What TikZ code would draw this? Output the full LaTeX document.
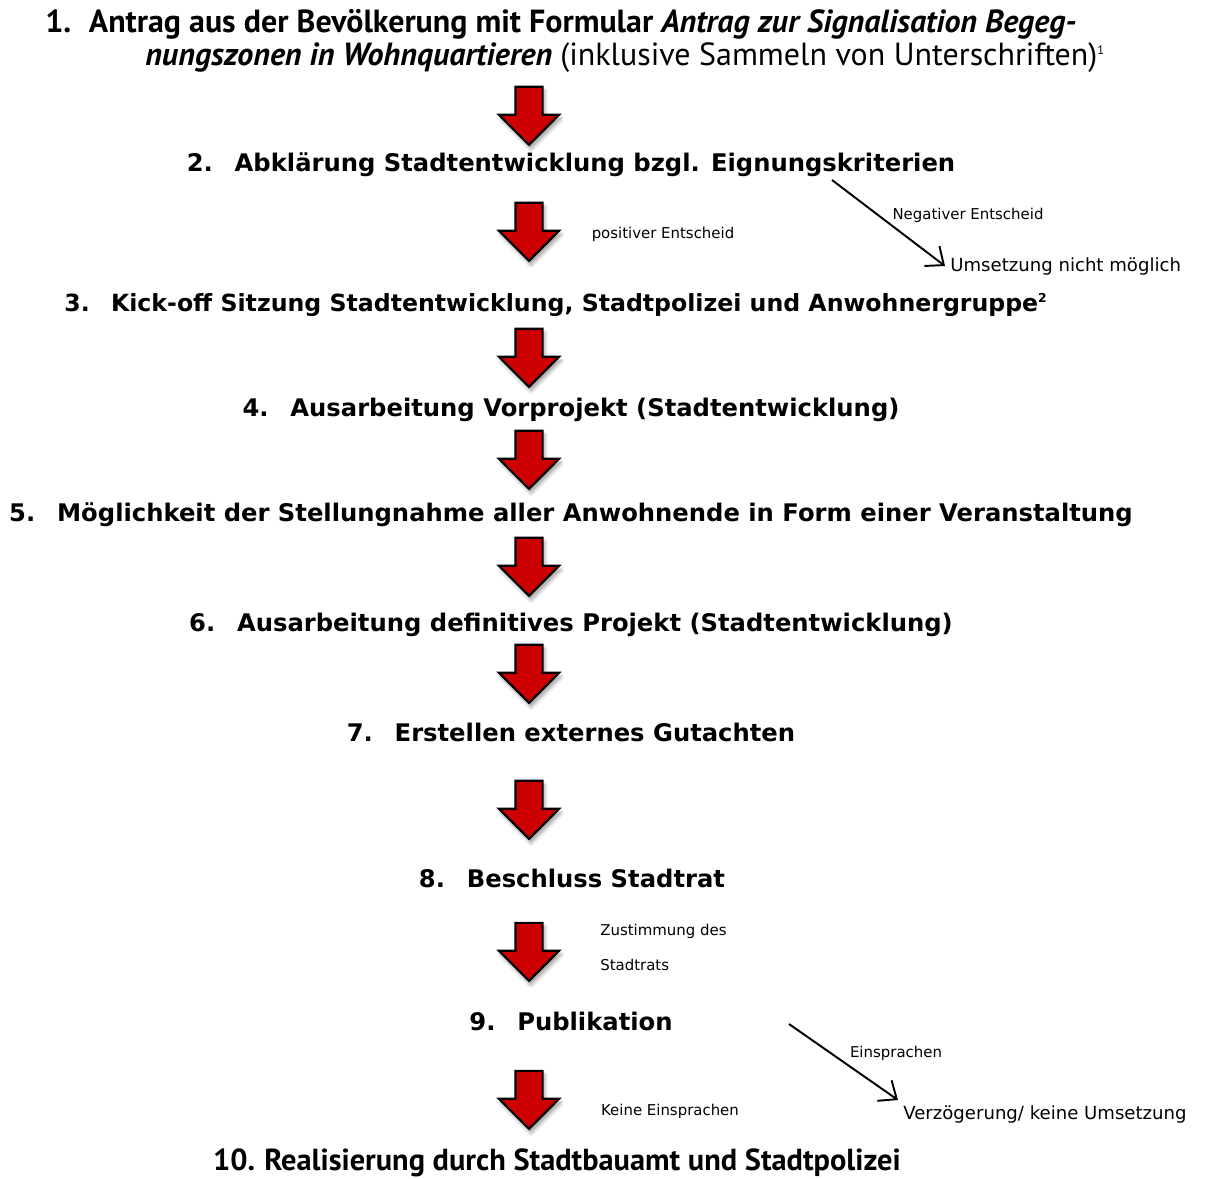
\documentclass[tikz,border=0pt]{standalone}
\usepackage{fontspec}
\setmainfont{DejaVu Sans}
\newfontfamily\myriad{PT Sans}
\usetikzlibrary{shapes.arrows,shadows.blur,arrows.meta}
\definecolor{arrowred}{RGB}{204,0,0}
\tikzset{
  blockarrow/.style={single arrow, shape border rotate=270, draw=black, line width=1.2pt,
    fill=arrowred, minimum height=1.16cm, minimum width=1.16cm,
    single arrow head extend=0.33cm, inner sep=0.25cm,
    blur shadow={shadow xshift=0.04cm, shadow yshift=-0.08cm, shadow blur steps=6, shadow opacity=40}},
  steptext/.style={font=\fontsize{13.8}{16}\selectfont\bfseries, inner sep=0pt},
  sidenote/.style={font=\fontsize{8.5}{10}\selectfont, inner sep=0pt},
  outcome/.style={font=\fontsize{10.3}{12}\selectfont, inner sep=0.1cm},
  branch/.style={line width=1.1pt, -{Straight Barb[length=0.3cm,width=0.5cm]}},
}
\begin{document}
\begin{tikzpicture}[x=0.02cm,y=-0.02cm]
  \useasboundingbox (0,0) rectangle (1206,1178);
  % steps
  \node[anchor=west, align=left, inner sep=0pt, font=\myriad\fontsize{18.2}{19}\selectfont\bfseries] (s1) at (45,41)
    {1.\hspace{0.55em}Antrag aus der Bevölkerung mit Formular \textit{Antrag zur Signalisation Begeg-}\\
     \hspace*{2cm}\textit{nungszonen in Wohnquartieren} \mdseries(inklusive Sammeln von Unterschriften)\textsuperscript{\scriptsize 1}};
  \node[steptext] (s2) at (571,165) {2.\hspace{0.9em}Abklärung Stadtentwicklung bzgl. Eignungskriterien};
  \node[steptext, font=\fontsize{13.45}{16}\selectfont\bfseries] (s3) at (556,305) {3.\hspace{0.9em}Kick-off Sitzung Stadtentwicklung, Stadtpolizei und Anwohnergruppe\textsuperscript{\scriptsize 2}};
  \node[steptext] (s4) at (571,410) {4.\hspace{0.9em}Ausarbeitung Vorprojekt (Stadtentwicklung)};
  \node[steptext] (s5) at (571,515) {5.\hspace{0.9em}Möglichkeit der Stellungnahme aller Anwohnende in Form einer Veranstaltung};
  \node[steptext] (s6) at (571,625) {6.\hspace{0.9em}Ausarbeitung definitives Projekt (Stadtentwicklung)};
  \node[steptext] (s7) at (571,732) {7.\hspace{0.9em}Erstellen externes Gutachten};
  \node[steptext] (s8) at (572,878) {8.\hspace{0.9em}Beschluss Stadtrat};
  \node[steptext] (s9) at (571,1021) {9.\hspace{0.9em}Publikation};
  \node[inner sep=0pt, font=\myriad\fontsize{17.3}{18}\selectfont\bfseries] (s10) at (557,1163)
    {10.\hspace{0.3em}Realisierung durch Stadtbauamt und Stadtpolizei};
  % block arrows
  \foreach \y [count=\i] in {109,225,351,453,560,667,803,945,1093}
    \node[blockarrow] (a\i) at (529,\y) {};
  % notes
  \node[sidenote] (pos) at (663,234) {positiver Entscheid};
  \node[sidenote, anchor=west, align=left, font=\fontsize{8.5}{20}\selectfont] (yes) at (600,947) {Zustimmung des\\Stadtrats};
  \node[sidenote] (none) at (670,1111) {Keine Einsprachen};
  % branches
  \coordinate (n1) at (832,180);
  \node[outcome, anchor=west] (fail) at (945,266) {Umsetzung nicht möglich};
  \node[sidenote] (neg) at (968,215) {Negativer Entscheid};
  \draw[branch] (n1) -- (fail.west);
  \coordinate (n2) at (789,1024);
  \node[outcome, anchor=north west] (delay) at (898,1100) {Verzögerung/ keine Umsetzung};
  \node[sidenote] (obj) at (896,1053) {Einsprachen};
  \draw[branch] (n2) -- (delay.north west);
\end{tikzpicture}
\end{document}
